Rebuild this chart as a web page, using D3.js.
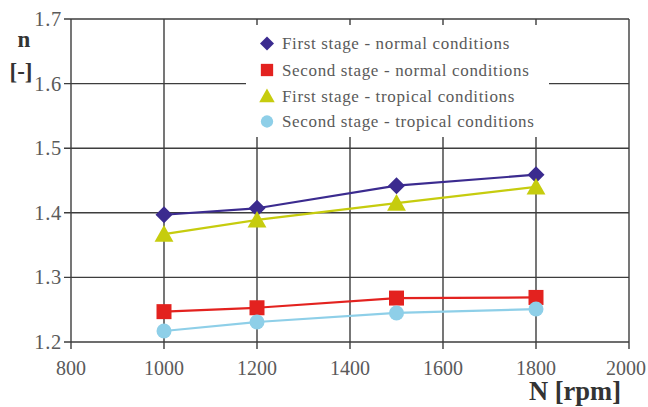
<!DOCTYPE html>
<html>
<head>
<meta charset="utf-8">
<script src="https://cdn.jsdelivr.net/npm/d3@7"></script>
<style>
  body { margin: 0; background: #fff; }
  svg { display: block; }
</style>
</head>
<body>
<div id="chart"></div>
<script>
var width = 648,
    height = 407;

// data
var speeds = [1000, 1200, 1500, 1800];
var firstNormal = [1.397, 1.407, 1.442, 1.459];
var secondNormal = [1.247, 1.253, 1.268, 1.269];
var firstTropical = [1.367, 1.389, 1.415, 1.440];
var secondTropical = [1.217, 1.231, 1.245, 1.251];

var xTicks = [800, 1000, 1200, 1400, 1600, 1800, 2000];
var yTicks = [1.2, 1.3, 1.4, 1.5, 1.6, 1.7];

var seriesNames = [
  "First stage - normal conditions",
  "Second stage - normal conditions",
  "First stage - tropical conditions",
  "Second stage - tropical conditions"
];

var series = [
  {name: seriesNames[0], values: firstNormal, color: "#3b2b8f", shape: "diamond"},
  {name: seriesNames[1], values: secondNormal, color: "#e3221f", shape: "square"},
  {name: seriesNames[2], values: firstTropical, color: "#c6cc0e", shape: "triangle"},
  {name: seriesNames[3], values: secondTropical, color: "#8ecfe8", shape: "circle"}
];

var serif = "'Liberation Serif', 'Times New Roman', serif";

var svg = d3.select("#chart")
  .append("svg")
  .attr("width", width)
  .attr("height", height);

var x = d3.scaleLinear().domain([800, 2000]).range([71, 629]);
var y = d3.scaleLinear().domain([1.2, 1.7]).range([342, 19]);

var gridColor = "#3d3d3d";
var textColor = "#5a5a5a";

// grid
var grid = svg.append("g").attr("class", "grid");
grid.selectAll("line.v")
  .data(xTicks)
  .enter().append("line")
    .attr("class", "v")
    .attr("x1", d => x(d)).attr("x2", d => x(d))
    .attr("y1", y(1.7)).attr("y2", y(1.2) + 7)
    .attr("stroke", gridColor)
    .attr("stroke-width", 1.4);
grid.selectAll("line.h")
  .data(yTicks)
  .enter().append("line")
    .attr("class", "h")
    .attr("x1", x(800) - 7).attr("x2", x(2000))
    .attr("y1", d => y(d)).attr("y2", d => y(d))
    .attr("stroke", gridColor)
    .attr("stroke-width", 1.4);

// tick labels
svg.append("g").selectAll("text")
  .data(yTicks)
  .enter().append("text")
    .attr("x", 62)
    .attr("y", d => y(d) + 7)
    .attr("text-anchor", "end")
    .attr("font-size", 20.5)
    .attr("letter-spacing", 0.7)
    .attr("fill", textColor)
    .style("font-family", serif)
    .text(d => d.toFixed(1));

svg.append("g").selectAll("text")
  .data(xTicks)
  .enter().append("text")
    .attr("x", d => x(d))
    .attr("dx", d => d === 2000 ? -3 : 0)
    .attr("y", 375)
    .attr("text-anchor", "middle")
    .attr("font-size", 20)
    .attr("fill", textColor)
    .style("font-family", serif)
    .text(d => d);

// axis titles
svg.append("text")
  .attr("x", 24).attr("y", 47)
  .attr("text-anchor", "middle")
  .attr("font-weight", "bold")
  .attr("font-size", 23)
  .attr("fill", "#333")
  .style("font-family", serif)
  .text("n");
svg.append("text")
  .attr("x", 21).attr("y", 79)
  .attr("text-anchor", "middle")
  .attr("font-weight", "bold")
  .attr("font-size", 23)
  .attr("fill", "#333")
  .style("font-family", serif)
  .text("[-]");
svg.append("text")
  .attr("x", 621).attr("y", 400)
  .attr("text-anchor", "end")
  .attr("font-weight", "bold")
  .attr("font-size", 26.5)
  .attr("fill", "#333")
  .style("font-family", serif)
  .text("N [rpm]");

// legend box (covers grid)
var legend = svg.append("g").attr("class", "legend");
legend.append("rect")
  .attr("x", 246).attr("y", 25)
  .attr("width", 303).attr("height", 112)
  .attr("fill", "#fff");

function markerPath(shape, r) {
  if (shape === "diamond") {
    return "M0," + (-r) + "L" + r + ",0L0," + r + "L" + (-r) + ",0Z";
  } else if (shape === "square") {
    return "M" + (-r) + "," + (-r) + "h" + (2 * r) + "v" + (2 * r) + "h" + (-2 * r) + "Z";
  } else if (shape === "triangle") {
    return "M0," + (-r) + "L" + (r * 1.05) + "," + (r * 0.85) + "L" + (-r * 1.05) + "," + (r * 0.85) + "Z";
  }
  return d3.arc()({innerRadius: 0, outerRadius: r, startAngle: 0, endAngle: 2 * Math.PI});
}

var markerSize = {diamond: 8.5, square: 7.5, triangle: 9, circle: 7.5};

// lines and markers
var line = d3.line()
  .x(d => x(d[0]))
  .y(d => y(d[1]));

series.forEach(function(s) {
  var pts = speeds.map((v, i) => [v, s.values[i]]);
  svg.append("path")
    .datum(pts)
    .attr("d", line)
    .attr("fill", "none")
    .attr("stroke", s.color)
    .attr("stroke-width", 2.2);
});

series.forEach(function(s) {
  var pts = speeds.map((v, i) => [v, s.values[i]]);
  svg.append("g").selectAll("path")
    .data(pts)
    .enter().append("path")
      .attr("transform", d => "translate(" + x(d[0]) + "," + y(d[1]) + ")")
      .attr("d", markerPath(s.shape, markerSize[s.shape]))
      .attr("fill", s.color);
});

// legend entries
var rowY = [43.5, 70, 96, 121.5];
series.forEach(function(s, i) {
  legend.append("path")
    .attr("transform", "translate(267," + rowY[i] + ")")
    .attr("d", markerPath(s.shape, markerSize[s.shape] * 0.82))
    .attr("fill", s.color);
  legend.append("text")
    .attr("x", 282)
    .attr("y", rowY[i] + 5.5)
    .attr("font-size", 17)
    .attr("letter-spacing", 0.65)
    .attr("fill", textColor)
    .style("font-family", serif)
    .text(s.name);
});
</script>
</body>
</html>
